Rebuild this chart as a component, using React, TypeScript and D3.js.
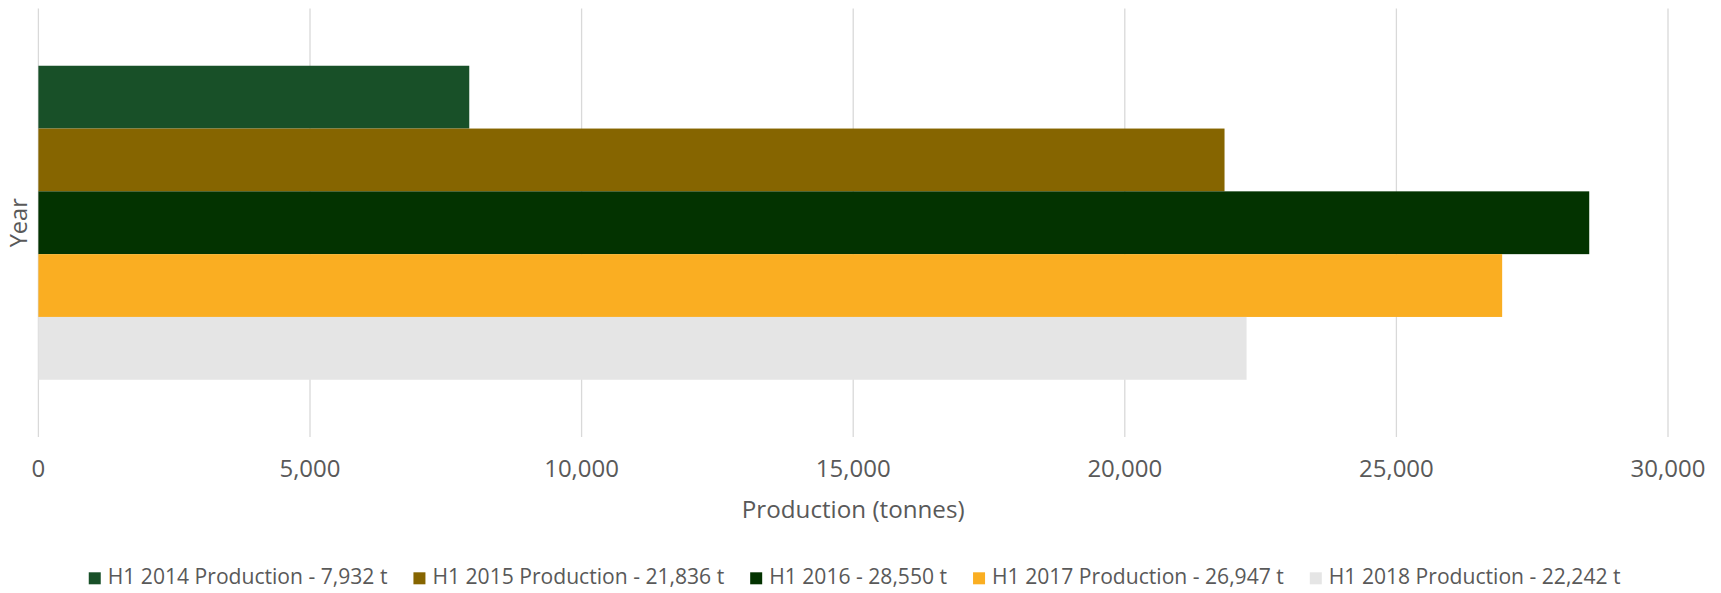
import React, { useEffect, useRef } from "react";
import * as d3 from "d3";

const seriesNames = [
  "H1 2014 Production - 7,932 t",
  "H1 2015 Production - 21,836 t",
  "H1 2016 - 28,550 t",
  "H1 2017 Production - 26,947 t",
  "H1 2018 Production - 22,242 t",
];
const seriesValues = [7932, 21836, 28550, 26947, 22242];
const seriesColors = ["#185028", "#866500", "#033300", "#FAAE22", "#E5E5E5"];
const xTicks = [0, 5000, 10000, 15000, 20000, 25000, 30000];
const xTitle = "Production (tonnes)";
const yTitle = "Year";

const W = 1721;
const H = 593;
const FONT = "'Open Sans', 'Liberation Sans', sans-serif";
const TEXT = "#595959";

export default function App() {
  const ref = useRef<SVGSVGElement>(null);

  useEffect(() => {
    const svg = d3.select(ref.current);
    svg.selectAll("*").remove();

    const left = 38.4;
    const right = 1668;
    const top = 8.5;
    const bottom = 437;

    const x = d3.scaleLinear().domain([0, 30000]).range([left, right]);
    const band = d3
      .scaleBand<number>()
      .domain([0])
      .range([top, bottom])
      .paddingInner(0)
      .paddingOuter(0.1823);
    const y = d3
      .scaleBand<number>()
      .domain(seriesValues.map((_, i) => i))
      .range([band(0)!, band(0)! + band.bandwidth()])
      .padding(0);

    // gridlines
    svg
      .append("g")
      .selectAll("line")
      .data(xTicks)
      .join("line")
      .attr("x1", (d) => x(d))
      .attr("x2", (d) => x(d))
      .attr("y1", top)
      .attr("y2", bottom)
      .attr("stroke", "#D9D9D9")
      .attr("stroke-width", 1.3);

    // bars
    svg
      .append("g")
      .selectAll("rect")
      .data(seriesValues)
      .join("rect")
      .attr("x", x(0))
      .attr("y", (_, i) => y(i)!)
      .attr("width", (d) => x(d) - x(0))
      .attr("height", y.bandwidth())
      .attr("fill", (_, i) => seriesColors[i]);

    // tick labels
    const fmt = d3.format(",");
    svg
      .append("g")
      .selectAll("text")
      .data(xTicks)
      .join("text")
      .attr("x", (d) => x(d))
      .attr("y", 477.3)
      .attr("text-anchor", "middle")
      .attr("font-family", FONT)
      .attr("font-size", 24)
      .attr("fill", TEXT)
      .text((d) => fmt(d));

    // axis titles
    svg
      .append("text")
      .attr("x", (left + right) / 2)
      .attr("y", 518.3)
      .attr("text-anchor", "middle")
      .attr("font-family", FONT)
      .attr("font-size", 24.2)
      .attr("fill", TEXT)
      .text(xTitle);

    svg
      .append("text")
      .attr("transform", `translate(26.7,${(top + bottom) / 2}) rotate(-90)`)
      .attr("text-anchor", "middle")
      .attr("font-family", FONT)
      .attr("font-size", 23.6)
      .attr("fill", TEXT)
      .text(yTitle);

    // legend
    const lg = svg.append("g");
    const items = lg.selectAll("g").data(seriesNames).join("g");
    items
      .append("rect")
      .attr("width", 12)
      .attr("height", 12)
      .attr("y", -12)
      .attr("fill", (_, i) => seriesColors[i]);
    const texts = items
      .append("text")
      .attr("x", 19)
      .attr("font-family", FONT)
      .attr("font-size", 21.1)
      .attr("fill", TEXT)
      .text((d) => d);
    const widths: number[] = [];
    texts.each(function () {
      widths.push((this as SVGTextElement).getComputedTextLength());
    });
    const gap = 26;
    const itemW = widths.map((w) => 19 + w);
    const total = d3.sum(itemW) + gap * (itemW.length - 1);
    let cx = (83.3 + 1626) / 2 - total / 2;
    items.attr("transform", (_, i) => {
      const t = `translate(${cx},584.3)`;
      cx += itemW[i] + gap;
      return t;
    });
  }, []);

  return (
    <svg
      ref={ref}
      width={W}
      height={H}
      style={{ display: "block", position: "absolute", left: 0, top: 0 }}
    />
  );
}
